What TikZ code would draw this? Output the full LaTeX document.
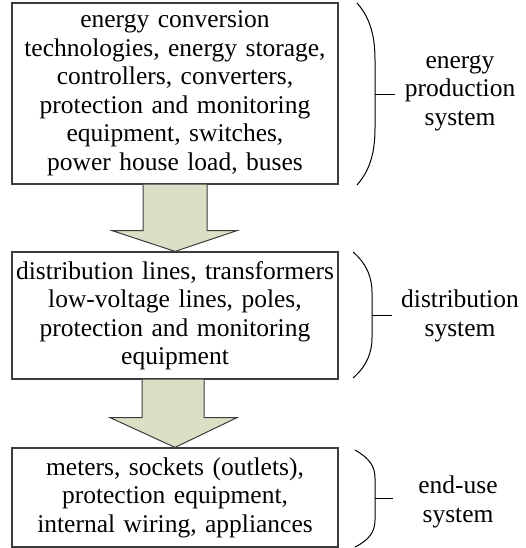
\documentclass[tikz,border=0pt]{standalone}
\usepackage{fontspec}
\setmainfont{Liberation Serif}
\usetikzlibrary{calc}
\definecolor{arrowfill}{RGB}{218,223,197}
\definecolor{edge}{RGB}{60,60,60}

\begin{document}
\begin{tikzpicture}[x=1pt,y=-1pt]
% size of the text
\def\fs{\fontsize{25.5}{28.5}\selectfont}
% node style definition
\tikzstyle{block} = [
	draw=edge, fill=white, rectangle, line width=1.2pt, inner sep=0pt,
	minimum width=326pt, text width=326pt, align=center, font=\fs ];
\tikzstyle{plain} = [draw=none,fill=none,align=center,inner sep=0pt,font=\fs];
\tikzstyle{bigarrow} = [draw=edge, fill=arrowfill, line width=1pt];
\tikzstyle{brace} = [draw=black, line width=1pt];
\useasboundingbox (0,0) rectangle (526,548);

% system blocks
\node[block, minimum height=181pt] (prod) at (175,93.5) {
	energy conversion\\ technologies, energy storage,\\ controllers, converters,\\
	protection and monitoring\\ equipment, switches,\\ power house load, buses };
\node[block, minimum height=127pt] (dist) at (175,315.5) {
	distribution lines, transformers\\ low-voltage lines, poles,\\
	protection and monitoring\\ equipment };
\node[block, minimum height=99pt] (use) at (175,497.5) {
	meters, sockets (outlets),\\ protection equipment,\\ internal wiring, appliances };

% arrows between blocks
\filldraw[bigarrow] ($(prod.south)+(-32,0)$) -- ($(prod.south)+(-32,46)$)
	-- ($(prod.south)+(-63,46)$) -- (dist.north) -- ($(prod.south)+(62,46)$)
	-- ($(prod.south)+(32,46)$) -- ($(prod.south)+(32,0)$);
\filldraw[bigarrow] ($(dist.south)+(-33,0)$) -- ($(dist.south)+(-33,38)$)
	-- ($(dist.south)+(-65,38)$) -- (use.north) -- ($(dist.south)+(62,38)$)
	-- ($(dist.south)+(29,38)$) -- ($(dist.south)+(29,0)$);

% system names
\node[plain] (lprod) at (460,93) { energy\\ production\\ system };
\node[plain] (ldist) at (460,316) { distribution\\ system };
\node[plain] (luse) at (458,502) { end-use\\ system };

% braces
\draw[brace] (357,3) .. controls (372,20) and (375,40) .. (375,60) -- (375,128)
	.. controls (375,148) and (372,168) .. (357,185);
\draw[brace] (353,252) .. controls (367,264) and (372,278) .. (372,292) -- (372,338)
	.. controls (372,352) and (367,366) .. (353,378);
\draw[brace] (355,450) .. controls (369,458) and (375,466) .. (375,478) -- (375,520)
	.. controls (375,532) and (369,540) .. (355,547);
\coordinate (b1) at (375,95);
\coordinate (t1) at (395,95);
\coordinate (b2) at (372,315);
\coordinate (t2) at (392,315);
\coordinate (b3) at (375,498);
\coordinate (t3) at (393,498);
\draw[brace] (b1) -- (t1);
\draw[brace] (b2) -- (t2);
\draw[brace] (b3) -- (t3);

\end{tikzpicture}
\end{document}
